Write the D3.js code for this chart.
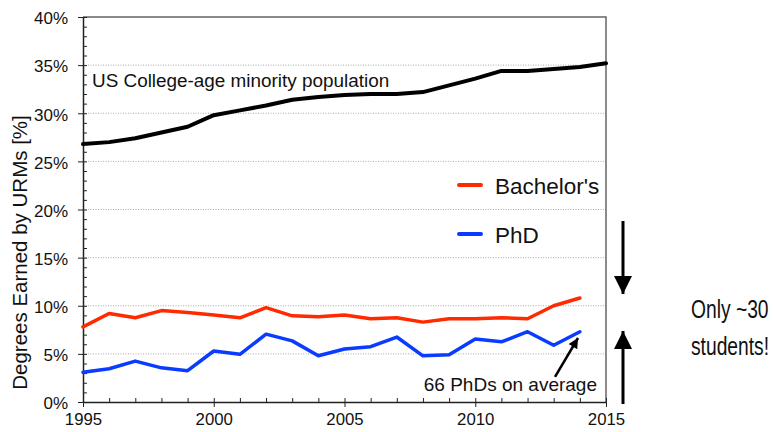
<!DOCTYPE html>
<html lang="en">
<head>
<meta charset="UTF-8">
<title>Degrees Earned by URMs</title>
<script src="https://d3js.org/d3.v7.min.js"></script>
<style>
    body { margin: 0; background: #fff; }
    svg text { font-family: Arial, "Liberation Sans", sans-serif; fill: #111; }
    .grid line { stroke: #aaa; stroke-dasharray: 1,1.5; }
    .axis path, .axis line { stroke: #222; }
    .series { fill: none; stroke-linejoin: round; stroke-linecap: round; }
</style>
</head>
<body>
<div id="chart"></div>
<script>
    const years = d3.range(1995, 2016);
    const population = [26.8, 27.0, 27.4, 28.0, 28.6, 29.8, 30.3, 30.8, 31.4, 31.7, 31.9,
                        32.0, 32.0, 32.2, 32.9, 33.6, 34.4, 34.4, 34.6, 34.8, 35.2];
    const bachelors = [7.8, 9.2, 8.75, 9.5, 9.3, 9.05, 8.75, 9.8, 8.95, 8.85, 9.05,
                       8.65, 8.75, 8.3, 8.65, 8.65, 8.75, 8.65, 10.0, 10.8];
    const phd = [3.1, 3.45, 4.25, 3.55, 3.25, 5.3, 4.95, 7.05, 6.35, 4.8, 5.5,
                 5.75, 6.75, 4.8, 4.9, 6.55, 6.25, 7.3, 5.9, 7.3];
    const yTicks = [0, 5, 10, 15, 20, 25, 30, 35, 40];
    const xTicks = [1995, 2000, 2005, 2010, 2015];

    const width = 773, height = 432;
    const margin = { top: 17, right: 167, bottom: 30, left: 83 };

    const svg = d3.select("#chart").append("svg")
        .attr("width", width).attr("height", height);

    const defs = svg.append("defs");
    defs.append("marker").attr("id", "smallHead")
        .attr("viewBox", "0 0 10 10").attr("refX", 10).attr("refY", 5)
        .attr("markerUnits", "userSpaceOnUse")
        .attr("markerWidth", 13).attr("markerHeight", 10).attr("orient", "auto")
        .append("path").attr("d", "M0,0L10,5L0,10Z").attr("fill", "#000");
    defs.append("marker").attr("id", "bigHead")
        .attr("viewBox", "0 0 10 10").attr("refX", 10).attr("refY", 5)
        .attr("markerUnits", "userSpaceOnUse")
        .attr("markerWidth", 18).attr("markerHeight", 18).attr("orient", "auto")
        .append("path").attr("d", "M0,0L10,5L0,10Z").attr("fill", "#000");

    const x = d3.scaleLinear().domain([1995, 2015]).range([margin.left, width - margin.right]);
    const y = d3.scaleLinear().domain([0, 40]).range([height - margin.bottom, margin.top]);

    // gridlines
    svg.append("g").attr("class", "grid")
        .selectAll("line").data(yTicks.filter(d => d > 0 && d < 40)).join("line")
        .attr("x1", x(1995)).attr("x2", x(2015))
        .attr("y1", d => y(d)).attr("y2", d => y(d));

    // frame (top + right)
    svg.append("path")
        .attr("d", `M${x(1995)},${y(40)}H${x(2015)}V${y(0)}`)
        .attr("fill", "none").attr("stroke", "#666").attr("stroke-width", 1.5);

    // minor ticks (inward)
    svg.append("g").attr("class", "axis")
        .attr("transform", `translate(${x(1995)},0)`)
        .call(d3.axisLeft(y).tickValues(d3.range(0, 41)).tickSize(-4).tickFormat(""))
        .call(g => g.select(".domain").remove());
    svg.append("g").attr("class", "axis")
        .attr("transform", `translate(0,${y(0)})`)
        .call(d3.axisBottom(x).tickValues(years).tickSize(-4).tickFormat(""))
        .call(g => g.select(".domain").remove());

    // major axes
    const yAxis = svg.append("g").attr("class", "axis")
        .attr("transform", `translate(${x(1995)},0)`)
        .call(d3.axisLeft(y).tickValues(yTicks).tickSizeInner(5).tickSizeOuter(0)
            .tickPadding(10).tickFormat(d => d + "%"));
    yAxis.selectAll("text").attr("font-size", 17).attr("dy", "0.4em");
    yAxis.select(".domain").attr("stroke-width", 1.5);

    const xAxis = svg.append("g").attr("class", "axis")
        .attr("transform", `translate(0,${y(0)})`)
        .call(d3.axisBottom(x).tickValues(xTicks).tickSizeInner(5).tickSizeOuter(0)
            .tickPadding(6).tickFormat(d3.format("d")));
    xAxis.selectAll("text").attr("font-size", 16.8);
    xAxis.select(".domain").attr("stroke-width", 1.5);

    // y title
    svg.append("text")
        .attr("transform", `translate(27,${(y(0) + y(40)) / 2 + 43}) rotate(-90)`)
        .attr("text-anchor", "middle").attr("font-size", 20.5)
        .text("Degrees Earned by URMs [%]");

    // series
    const line = d3.line().x((d, i) => x(years[i])).y(d => y(d));
    svg.append("path").datum(population).attr("class", "series")
        .attr("stroke", "#000").attr("stroke-width", 4).attr("d", line);
    svg.append("path").datum(bachelors).attr("class", "series")
        .attr("stroke", "#ff2a00").attr("stroke-width", 3.5).attr("d", line);
    svg.append("path").datum(phd).attr("class", "series")
        .attr("stroke", "#0a3cff").attr("stroke-width", 3.5).attr("d", line);

    svg.append("text").attr("x", 92).attr("y", 87).attr("font-size", 18.9)
        .text("US College-age minority population");

    // legend
    const legend = [
        { name: "Bachelor's", color: "#ff2a00", ly: 185 },
        { name: "PhD", color: "#0a3cff", ly: 234 }
    ];
    const lg = svg.append("g").selectAll("g").data(legend).join("g")
        .attr("transform", d => `translate(459,${d.ly})`);
    lg.append("line").attr("x1", 0).attr("x2", 22)
        .attr("stroke", d => d.color).attr("stroke-width", 4).attr("stroke-linecap", "round");
    lg.append("text").attr("x", 36).attr("y", 9).attr("font-size", 22.5).text(d => d.name);

    // annotation
    svg.append("text").attr("x", 597).attr("y", 391).attr("text-anchor", "end")
        .attr("font-size", 19).text("66 PhDs on average");
    svg.append("line")
        .attr("x1", x(2013.05)).attr("y1", y(2.6)).attr("x2", x(2013.93)).attr("y2", y(6.65))
        .attr("stroke", "#000").attr("stroke-width", 2.5).attr("marker-end", "url(#smallHead)");

    // right side arrows + text
    const ax = 623;
    svg.append("line").attr("x1", ax).attr("x2", ax).attr("y1", 221).attr("y2", 294)
        .attr("stroke", "#000").attr("stroke-width", 3).attr("marker-end", "url(#bigHead)");
    svg.append("line").attr("x1", ax).attr("x2", ax).attr("y1", 404).attr("y2", 331)
        .attr("stroke", "#000").attr("stroke-width", 3).attr("marker-end", "url(#bigHead)");

    // narrow note, squeezed horizontally like the original slide text
    const note = svg.append("g").attr("transform", "translate(691,0) scale(0.77,1)");
    note.append("text").attr("x", 0).attr("y", 318).attr("font-size", 25).text("Only ~30");
    note.append("text").attr("x", 0).attr("y", 355).attr("font-size", 25).text("students!");
</script>
</body>
</html>
